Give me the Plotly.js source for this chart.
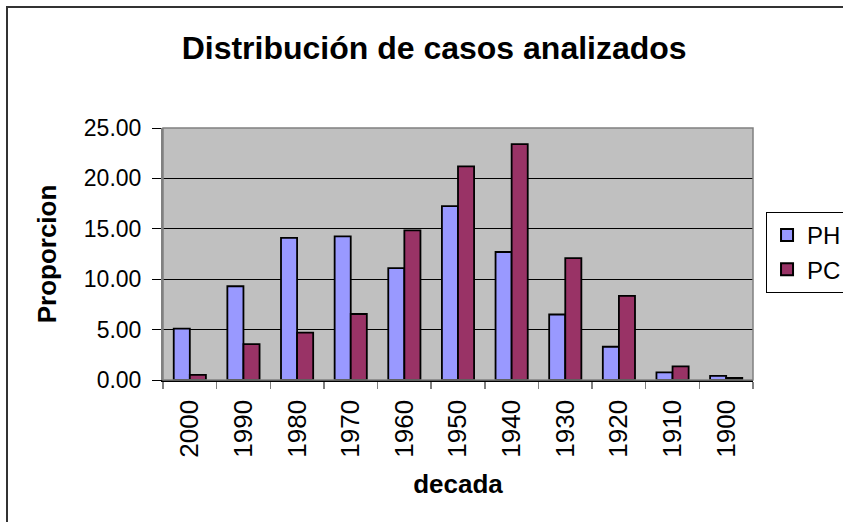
<!DOCTYPE html>
<html>
<head>
<meta charset="utf-8">
<script src="https://cdn.plot.ly/plotly-3.0.1.min.js"></script>
<style>
  html, body { margin: 0; padding: 0; background: #fff; }
  #wrap { position: relative; width: 843px; height: 522px; overflow: hidden; }
  #chart { width: 843px; height: 522px; }
  #frame { position: absolute; left: 6px; top: 6px; width: 900px; height: 600px;
           border-left: 2px solid #333; border-top: 2px solid #333; pointer-events: none; }
</style>
</head>
<body>
<div id="wrap">
  <div id="chart"></div>
  <div id="frame"></div>
</div>
<script>
const decades = ['2000','1990','1980','1970','1960','1950','1940','1930','1920','1910','1900'];
const phValues = [5.1, 9.3, 14.1, 14.25, 11.1, 17.25, 12.7, 6.5, 3.3, 0.75, 0.4];
const pcValues = [0.5, 3.55, 4.7, 6.55, 14.85, 21.2, 23.4, 12.1, 8.35, 1.35, 0.2];
const yTickValues = [0, 5, 10, 15, 20, 25];

const FONT = 'Liberation Sans, Arial, sans-serif';

const traces = [
  { type: 'bar', name: 'PH', x: decades, y: phValues,
    marker: { color: '#9999FF', line: { color: '#000', width: 1.8 } } },
  { type: 'bar', name: 'PC', x: decades, y: pcValues,
    marker: { color: '#993366', line: { color: '#000', width: 1.8 } } }
];

const layout = {
  width: 843, height: 522,
  margin: { l: 163, r: 90, t: 128, b: 142 },
  paper_bgcolor: '#fff',
  plot_bgcolor: '#C0C0C0',
  barmode: 'group',
  bargap: 0.4,
  bargroupgap: 0,
  showlegend: true,
  font: { family: FONT, color: '#000' },
  title: {
    text: '<b>Distribución de casos analizados</b>',
    font: { family: FONT, size: 32, color: '#000' },
    xref: 'container', x: 0.515, xanchor: 'center',
    yref: 'container', y: 0.908, yanchor: 'middle'
  },
  xaxis: {
    type: 'category',
    tickson: 'boundaries',
    ticks: 'outside', ticklen: 7, tickcolor: '#808080', tickwidth: 1.5,
    tickangle: -90,
    ticklabelstandoff: 8,
    tickfont: { family: FONT, size: 26, color: '#000' },
    showline: true, linecolor: '#000', linewidth: 1.5,
    showgrid: false,
    automargin: false,
    title: { text: '<b>decada</b>', font: { family: FONT, size: 26, color: '#000' }, standoff: 18 }
  },
  yaxis: {
    range: [0, 25],
    tickvals: yTickValues,
    tickformat: '.2f',
    ticks: 'outside', ticklen: 9, tickcolor: '#000', tickwidth: 1,
    ticklabelstandoff: 6,
    tickfont: { family: FONT, size: 23, color: '#000' },
    showgrid: true, gridcolor: '#000', gridwidth: 1,
    zeroline: false,
    showline: true, linecolor: '#808080', linewidth: 2,
    automargin: false,
    title: { text: '<b>Proporcion</b>', font: { family: FONT, size: 26, color: '#000' }, standoff: 20 }
  },
  legend: {
    xref: 'container', yref: 'container',
    x: 0.9087, xanchor: 'left',
    y: 0.594, yanchor: 'top',
    bgcolor: '#fff', bordercolor: '#000', borderwidth: 1,
    font: { family: FONT, size: 24, color: '#000' },
    itemsizing: 'constant'
  },
  shapes: [
    { type: 'rect', xref: 'paper', yref: 'paper', x0: 0, x1: 1, y0: 0, y1: 1,
      line: { color: '#808080', width: 1.5 }, fillcolor: 'rgba(0,0,0,0)', layer: 'above' }
  ]
};

Plotly.newPlot('chart', traces, layout, { displayModeBar: false, staticPlot: true });
</script>
</body>
</html>
